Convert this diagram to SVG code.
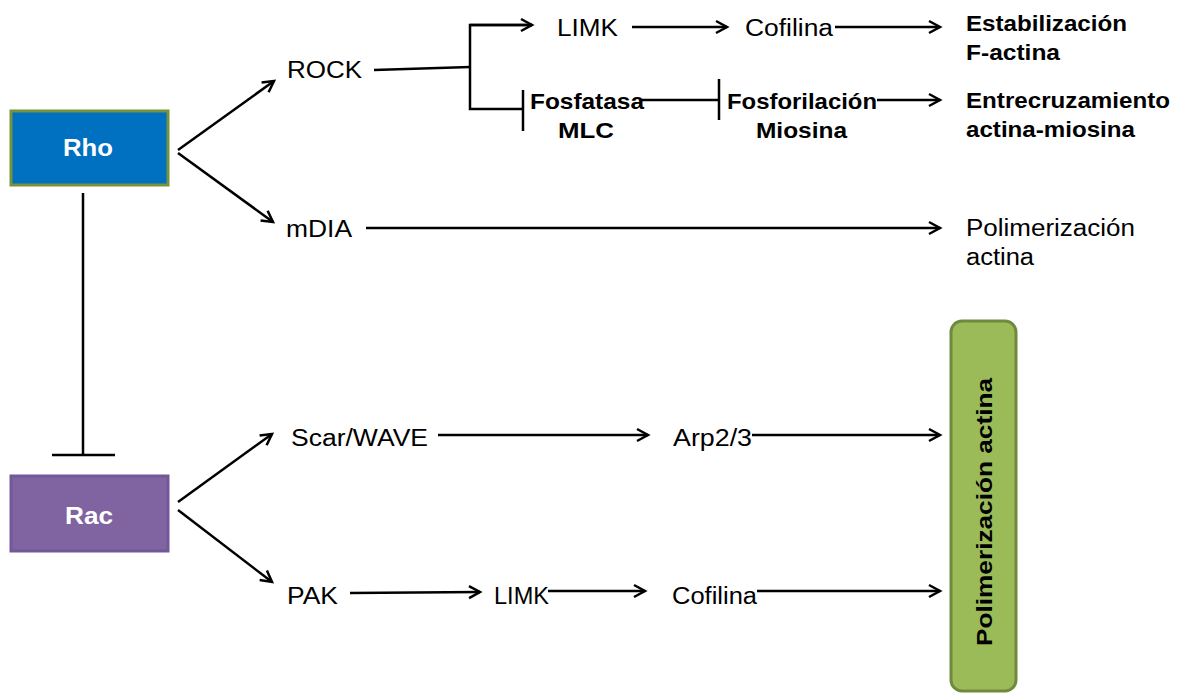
<svg xmlns="http://www.w3.org/2000/svg" width="1181" height="695" viewBox="0 0 1181 695">
<style>
text{font-family:"Liberation Sans",Arial,sans-serif;fill:#000;font-size:23px}
.b{font-weight:bold;font-size:22px}
.w{fill:#fff;font-weight:bold;font-size:24px}
.c{stroke:#000;stroke-width:2.5;fill:none}
</style>
<defs>
<marker id="arr" markerWidth="16" markerHeight="16" refX="13" refY="8" orient="auto" markerUnits="userSpaceOnUse">
<path d="M2,2 L13,8 L2,14" fill="none" stroke="#000" stroke-width="2.5"/>
</marker>
</defs>
<rect width="1181" height="695" fill="#fff"/>
<g id="connectors">
<line class="c" x1="178" y1="150" x2="274" y2="81" marker-end="url(#arr)"/>
<line class="c" x1="178" y1="153" x2="273" y2="222" marker-end="url(#arr)"/>
<line class="c" x1="178" y1="502" x2="272" y2="434" marker-end="url(#arr)"/>
<line class="c" x1="178" y1="510" x2="272" y2="582" marker-end="url(#arr)"/>
<line class="c" x1="83" y1="193" x2="83" y2="455"/>
<line class="c" x1="52" y1="455" x2="115" y2="455" stroke-width="3"/>
<line class="c" x1="374" y1="70" x2="470" y2="67"/>
<polyline class="c" points="532,25 470,25 470,109 522,109"/>
<line class="c" x1="470" y1="25" x2="532" y2="25" marker-end="url(#arr)"/>
<line class="c" x1="523" y1="90" x2="523" y2="131"/>
<line class="c" x1="632" y1="27" x2="727" y2="27" marker-end="url(#arr)"/>
<line class="c" x1="835" y1="27" x2="940" y2="27" marker-end="url(#arr)"/>
<line class="c" x1="640" y1="100" x2="719" y2="100"/>
<line class="c" x1="719" y1="79" x2="719" y2="120" stroke-width="3"/>
<line class="c" x1="877" y1="100" x2="940" y2="100" marker-end="url(#arr)"/>
<line class="c" x1="366" y1="228" x2="940" y2="228" marker-end="url(#arr)"/>
<line class="c" x1="438" y1="435" x2="648" y2="435" marker-end="url(#arr)"/>
<line class="c" x1="752" y1="435" x2="940" y2="435" marker-end="url(#arr)"/>
<line class="c" x1="350" y1="593" x2="480" y2="592" marker-end="url(#arr)"/>
<line class="c" x1="548" y1="591" x2="645" y2="591" marker-end="url(#arr)"/>
<line class="c" x1="757" y1="591" x2="940" y2="591" marker-end="url(#arr)"/>
</g>
<g id="rho">
<rect x="11" y="111" width="157" height="74" fill="#0070C0" stroke="#76923C" stroke-width="3"/>
<text class="w" x="63" y="156" textLength="50" lengthAdjust="spacingAndGlyphs">Rho</text>
</g>
<g id="rac">
<rect x="11" y="476" width="157" height="75" fill="#8064A2" stroke="#72589A" stroke-width="3"/>
<text class="w" x="65" y="524" textLength="48" lengthAdjust="spacingAndGlyphs">Rac</text>
</g>
<g id="rock"><text x="287" y="78" textLength="75" lengthAdjust="spacingAndGlyphs">ROCK</text></g>
<g id="limk1"><text x="557" y="36" textLength="61" lengthAdjust="spacingAndGlyphs">LIMK</text></g>
<g id="cofilina1"><text x="745" y="36" textLength="88" lengthAdjust="spacingAndGlyphs">Cofilina</text></g>
<g id="estab"><text class="b" x="966" y="31" textLength="161" lengthAdjust="spacingAndGlyphs">Estabilización</text><text class="b" x="966" y="60" textLength="94" lengthAdjust="spacingAndGlyphs">F-actina</text></g>
<g id="fosfatasa"><text class="b" x="530" y="109" textLength="114" lengthAdjust="spacingAndGlyphs">Fosfatasa</text><text class="b" x="558" y="138" textLength="56" lengthAdjust="spacingAndGlyphs">MLC</text></g>
<g id="fosforilacion"><text class="b" x="727" y="109" textLength="150" lengthAdjust="spacingAndGlyphs">Fosforilación</text><text class="b" x="756" y="138" textLength="91" lengthAdjust="spacingAndGlyphs">Miosina</text></g>
<g id="entrecruzamiento"><text class="b" x="966" y="108" textLength="204" lengthAdjust="spacingAndGlyphs">Entrecruzamiento</text><text class="b" x="966" y="137" textLength="169" lengthAdjust="spacingAndGlyphs">actina-miosina</text></g>
<g id="mdia"><text x="286" y="237" textLength="66" lengthAdjust="spacingAndGlyphs">mDIA</text></g>
<g id="polimerizacion1"><text x="966" y="236" textLength="169" lengthAdjust="spacingAndGlyphs">Polimerización</text><text x="966" y="265" textLength="68" lengthAdjust="spacingAndGlyphs">actina</text></g>
<g id="scarwave"><text x="291" y="446" textLength="137" lengthAdjust="spacingAndGlyphs">Scar/WAVE</text></g>
<g id="arp23"><text x="673" y="446" textLength="79" lengthAdjust="spacingAndGlyphs">Arp2/3</text></g>
<g id="pak"><text x="287" y="604" textLength="51" lengthAdjust="spacingAndGlyphs">PAK</text></g>
<g id="limk2"><text x="494" y="604" textLength="55" lengthAdjust="spacingAndGlyphs">LIMK</text></g>
<g id="cofilina2"><text x="672" y="604" textLength="85" lengthAdjust="spacingAndGlyphs">Cofilina</text></g>
<g id="polimerizacion2">
<rect x="951" y="321" width="65" height="370" rx="11" fill="#9BBB59" stroke="#71893F" stroke-width="3"/>
<text class="b" transform="translate(992,646) rotate(-90)" textLength="268" lengthAdjust="spacingAndGlyphs" font-size="24">Polimerización actina</text>
</g>
</svg>
